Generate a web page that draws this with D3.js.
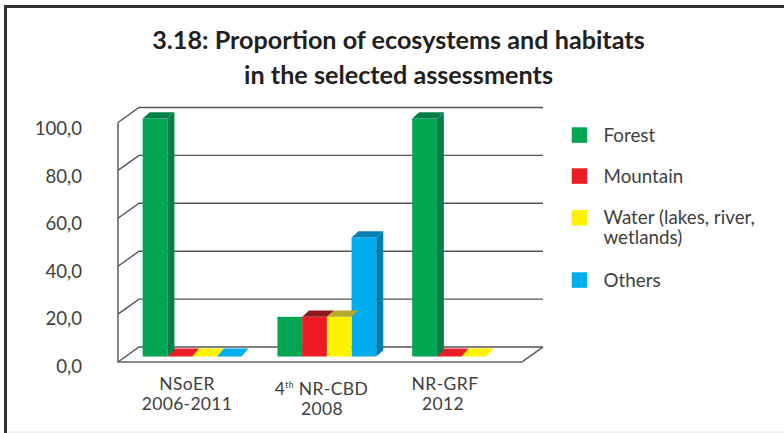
<!DOCTYPE html>
<html><head><meta charset="utf-8">
<script src="https://cdn.jsdelivr.net/npm/d3@7/dist/d3.min.js"></script>
<style>html,body{margin:0;padding:0;background:#fff}svg{display:block}text{font-family:Lato,sans-serif;fill:#404040}</style>
</head><body><svg id="c" width="784" height="433"></svg>
<script>
const titleLines = ["3.18: Proportion of ecosystems and habitats", "in the selected assessments"];
const categories = ["NSoER|2006-2011", "4th NR-CBD|2008", "NR-GRF|2012"];
const seriesNames = ["Forest", "Mountain", "Water (lakes, river,|wetlands)", "Others"];
const forest = [100, 16.67, 100];
const mountain = [0, 16.67, 0];
const water = [0, 16.67, 0];
const others = [0, 50, null];
const fills = ["#00a651", "#ed1c24", "#fff200", "#00aeef"];
const sides = ["#047f48", "#8f1a1d", "#b5a92e", "#0080b0"];
const tops = ["#047f48", "#8f1a1d", "#b5a92e", "#0080b0"];
const yTicks = [0, 20, 40, 60, 80, 100];
const legendY = [135, 176, 217.7, 280];

const svg = d3.select("#c");
const depthX = 21, depthY = 15, barDX = 7, barDY = 6.3, zeroDY = 8;
const yFront = d3.scaleLinear().domain([0, 100]).range([362, 122.5]);
const yBar = d3.scaleLinear().domain([0, 100]).range([356.5, 118.5]);
const x0 = d3.scaleBand().domain(categories).range([142.7, 511]).paddingInner(0.2665).paddingOuter(0);
const x1 = d3.scaleBand().domain(d3.range(4)).range([0, x0.bandwidth()]);
const xLeft = 118, xRight = 522;

// frame
svg.append("rect").attr("x", 7).attr("y", 431).attr("width", 777).attr("height", 2).attr("fill", "#f1f1f1");
svg.append("path").attr("d", "M5.5,433V6.5H784").attr("fill", "none").attr("stroke", "#333").attr("stroke-width", 3);

// title
svg.selectAll("text.title").data(titleLines).join("text").attr("class", "title")
  .attr("x", 398.5).attr("y", (d, i) => 49 + i * 35).attr("text-anchor", "middle")
  .style("font-size", "25.2px").style("font-weight", 700).style("fill", "#231f20").text(d => d);

// walls and gridlines
const grid = svg.append("g").attr("fill", "none");
grid.selectAll("path.g").data(yTicks).join("path").attr("class", "g")
  .attr("d", d => `M${xLeft},${yFront(d)}L${xLeft + depthX},${yFront(d) - depthY}H${xRight + depthX}`)
  .attr("stroke", "#555").attr("stroke-width", 1.4);
grid.append("path").attr("d", `M${xLeft},${yFront(100)}V${yFront(0)}H${xRight}L${xRight + depthX},${yFront(0) - depthY}`)
  .attr("stroke", "#666").attr("stroke-width", 1.6);

// y labels
svg.selectAll("text.yl").data(yTicks).join("text").attr("class", "yl")
  .attr("x", 82).attr("y", d => yBar(d) + 16.5).attr("text-anchor", "end")
  .style("font-size", "18.6px").text(d => d.toFixed(1).replace(".", ","));

// bars
const seriesList = [forest, mountain, water, others];
const marks = [];
seriesList.forEach((vals, s) => vals.forEach((v, c) => { if (v !== null) marks.push({ s, c, v }); }));
marks.sort((a, b) => a.c - b.c || b.s - a.s);
const bars = svg.append("g");
marks.forEach(m => {
  const x = x0(categories[m.c]) + x1(m.s), w = x1.bandwidth(), yt = yBar(m.v), yb = yBar(0);
  const hideTop = m.s === 0 && m.c === 1;
  if (m.v > 0) {
    bars.append("rect").attr("x", x).attr("y", yt).attr("width", w).attr("height", yb - yt).attr("fill", fills[m.s]);
    if (!hideTop) {
      bars.append("path").attr("d", `M${x},${yt}l${barDX},${-barDY}h${w}l${-barDX},${barDY}z`).attr("fill", tops[m.s]);
    }
    if (m.s === 3 || m.v === 100) {
      bars.append("path").attr("d", `M${x + w},${yt}l${barDX},${-barDY}V${yb - barDY}l${-barDX},${barDY}z`).attr("fill", sides[m.s]);
    }
  } else {
    bars.append("path").attr("d", `M${x},${yb}l${barDX},${-zeroDY}h${w}l${-barDX},${zeroDY}z`).attr("fill", fills[m.s]);
  }
});

// x labels
const firstCx = [187, 321.5, 445], secondCx = [187, 322, 443];
const catG = svg.selectAll("g.cat").data(categories).join("g").attr("class", "cat");
catG.each(function (d, i) {
  const g = d3.select(this), parts = d.split("|");
  const dy = i === 1 ? 5 : 0;
  const t = g.append("text").attr("x", firstCx[i]).attr("y", 389.5 + dy).attr("text-anchor", "middle").style("font-size", "17.5px").style("letter-spacing", "0.4px");
  if (parts[0].startsWith("4th")) {
    t.append("tspan").text("4");
    t.append("tspan").attr("dy", -7).style("font-size", "8.5px").text("th");
    t.append("tspan").attr("dy", 7).text(parts[0].slice(3));
  } else t.text(parts[0]);
  g.append("text").attr("x", secondCx[i]).attr("y", 410 + dy).attr("text-anchor", "middle").style("font-size", "17.5px").style("letter-spacing", "0.3px").text(parts[1]);
});

// legend
seriesNames.forEach((n, i) => {
  svg.append("rect").attr("x", 571.7).attr("y", legendY[i] - 7.7).attr("width", 15.5).attr("height", 15.5).attr("fill", fills[i]);
  n.split("|").forEach((l, j) => svg.append("text").attr("x", 603.5).attr("y", legendY[i] + 6.5 + j * 20).style("font-size", "18.8px").text(l));
});
</script></body></html>
